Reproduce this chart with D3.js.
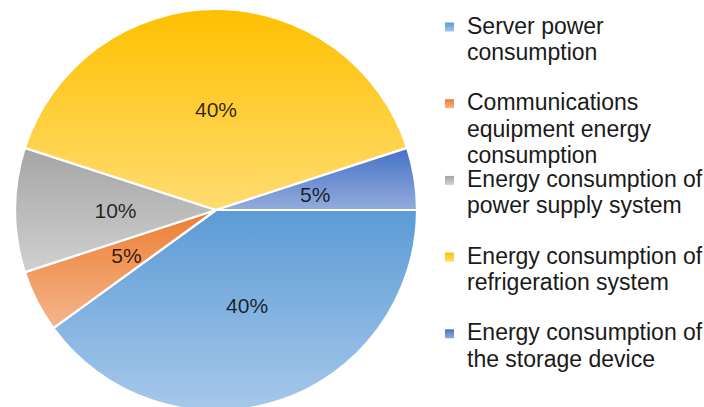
<!DOCTYPE html>
<html>
<head>
<meta charset="utf-8">
<script src="https://cdn.jsdelivr.net/npm/d3@7"></script>
<style>
  html, body { margin: 0; padding: 0; background: #ffffff; }
  svg { display: block; }
</style>
</head>
<body>
<svg id="chart" width="704" height="407"></svg>
<script>
// ---- data ----
const categories = [
  "Server power consumption",
  "Communications equipment energy consumption",
  "Energy consumption of power supply system",
  "Energy consumption of refrigeration system",
  "Energy consumption of the storage device"
];
const legendLines = [
  ["Server power", "consumption"],
  ["Communications", "equipment energy", "consumption"],
  ["Energy consumption of", "power supply system"],
  ["Energy consumption of", "refrigeration system"],
  ["Energy consumption of", "the storage device"]
];
const values = [40, 5, 10, 40, 5];
const valueLabels = ["40%", "5%", "10%", "40%", "5%"];
const colorTop = ["#5b9bd5", "#ed7d31", "#a5a5a5", "#ffc000", "#4472c4"];
const colorBottom = ["#a7c8ea", "#f5b68c", "#d0d0d0", "#ffdc70", "#93acdd"];

// ---- layout ----
const svg = d3.select("#chart");
const cx = 216, cy = 210, R = 201;
const font = "'Liberation Sans', Arial, Helvetica, sans-serif";

const defs = svg.append("defs");
categories.forEach((c, i) => {
  const g = defs.append("linearGradient")
    .attr("id", "grad" + i)
    .attr("x1", 0).attr("y1", 0).attr("x2", 0).attr("y2", 1);
  g.append("stop").attr("offset", "0%").attr("stop-color", colorTop[i]);
  g.append("stop").attr("offset", "100%").attr("stop-color", colorBottom[i]);
});

const pie = d3.pie()
  .sort(null)
  .value(d => d)
  .startAngle(Math.PI / 2)
  .endAngle(Math.PI / 2 + 2 * Math.PI);
const arcs = pie(values);
const arc = d3.arc().innerRadius(0).outerRadius(R);

const gPie = svg.append("g").attr("transform", `translate(${cx},${cy})`);
gPie.selectAll("path.slice")
  .data(arcs)
  .join("path")
  .attr("class", "slice")
  .attr("d", arc)
  .attr("fill", (d, i) => `url(#grad${i})`)
  .attr("stroke", "#ffffff")
  .attr("stroke-width", 2.2)
  .attr("stroke-linejoin", "round");

gPie.selectAll("text.pct")
  .data(arcs)
  .join("text")
  .attr("class", "pct")
  .attr("transform", d => `translate(${arc.centroid(d)})`)
  .attr("text-anchor", "middle")
  .attr("dy", "0.36em")
  .attr("font-family", font)
  .attr("font-size", 21)
  .attr("fill", "#000")
  .attr("fill-opacity", 0.82)
  .text((d, i) => valueLabels[i]);

// ---- legend ----
const legendX = 445, textX = 467, firstBaseline = 33.5, itemStep = 76.7, lineH = 26.3;
const gLeg = svg.append("g");
categories.forEach((c, i) => {
  const base = firstBaseline + i * itemStep;
  gLeg.append("rect")
    .attr("x", legendX).attr("y", base - 11)
    .attr("width", 9).attr("height", 9)
    .attr("fill", `url(#grad${i})`);
  const t = gLeg.append("text")
    .attr("x", textX).attr("y", base)
    .attr("font-family", font)
    .attr("font-size", 23)
    .attr("fill", "#1a1a1a");
  legendLines[i].forEach((ln, j) => {
    t.append("tspan").attr("x", textX).attr("y", base + j * lineH).text(ln);
  });
});
</script>
</body>
</html>
